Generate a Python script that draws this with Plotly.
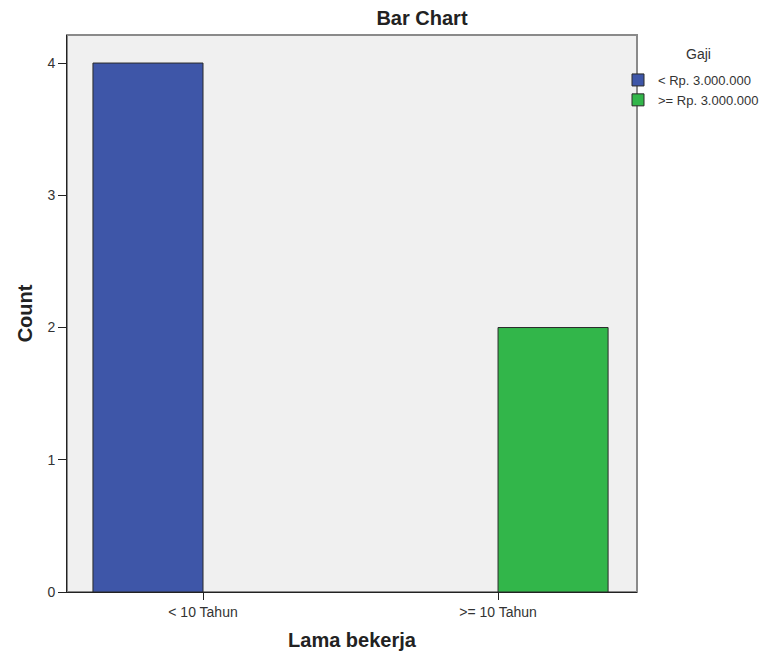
import plotly.graph_objects as go

categories = ["< 10 Tahun", ">= 10 Tahun"]
series_names = ["< Rp. 3.000.000", ">= Rp. 3.000.000"]
counts_low = [4, 0]
counts_high = [0, 2]
y_ticks = [0, 1, 2, 3, 4]

colors = ["#3E56A8", "#32B64A"]

def nz(vals):
    return [v if v else None for v in vals]

fig = go.Figure()
for name, vals, col in zip(series_names, [counts_low, counts_high], colors):
    fig.add_trace(go.Bar(
        x=categories, y=nz(vals), name=name,
        marker=dict(color=col, line=dict(color="#2a2a2a", width=1)),
    ))

W, H = 771, 654
ML, MR, MT, MB = 59, 142, 27, 70
plot_w = W - ML - MR
plot_h = H - MT - MB

font_family = "Liberation Sans, Arial, sans-serif"
fig.update_layout(
    width=W, height=H,
    barmode="group", bargap=0.254, bargroupgap=0,
    paper_bgcolor="white", plot_bgcolor="#F0F0F0",
    margin=dict(l=ML, r=MR, t=MT, b=MB, autoexpand=False),
    font=dict(family=font_family, color="#333333", size=14),
    title=dict(text="<b>Bar Chart</b>", x=414 / W, xanchor="center",
               y=1 - 10 / H, yanchor="middle",
               font=dict(size=20, color="#222222")),
    legend=dict(x=(610 - ML) / plot_w, y=(H - MB - 57) / plot_h,
                xanchor="left", yanchor="top",
                font=dict(size=13, color="#333333"), itemwidth=30, tracegroupgap=0,
                bgcolor="rgba(0,0,0,0)"),
    xaxis=dict(
        type="category", range=[-0.461, 1.471],
        showline=True, linecolor="#222222", linewidth=1,
        ticks="outside", ticklen=7, tickcolor="#222222",
        showgrid=False, zeroline=False,
        title=dict(text="<b>Lama bekerja</b>", font=dict(size=20, color="#222222"), standoff=14),
        tickfont=dict(size=14, color="#333333"),
    ),
    yaxis=dict(
        range=[0, 4.212], tickvals=y_ticks,
        showline=True, linecolor="#222222", linewidth=1,
        ticks="outside", ticklen=8, tickcolor="#222222",
        showgrid=False, zeroline=False,
        title=dict(text="<b>Count</b>", font=dict(size=20, color="#222222"), standoff=9),
        tickfont=dict(size=14, color="#333333"),
    ),
)
fig.add_annotation(text="Gaji", xref="paper", yref="paper",
                   x=(690 - ML) / plot_w, y=(H - MB - 46) / plot_h,
                   xanchor="center", yanchor="middle", showarrow=False,
                   font=dict(size=14, color="#333333"))
fig.add_shape(type="rect", xref="paper", yref="paper", x0=0, y0=0, x1=1, y1=1,
              line=dict(color="#8a8a8a", width=2), layer="below")

fig.write_html("out.html")
